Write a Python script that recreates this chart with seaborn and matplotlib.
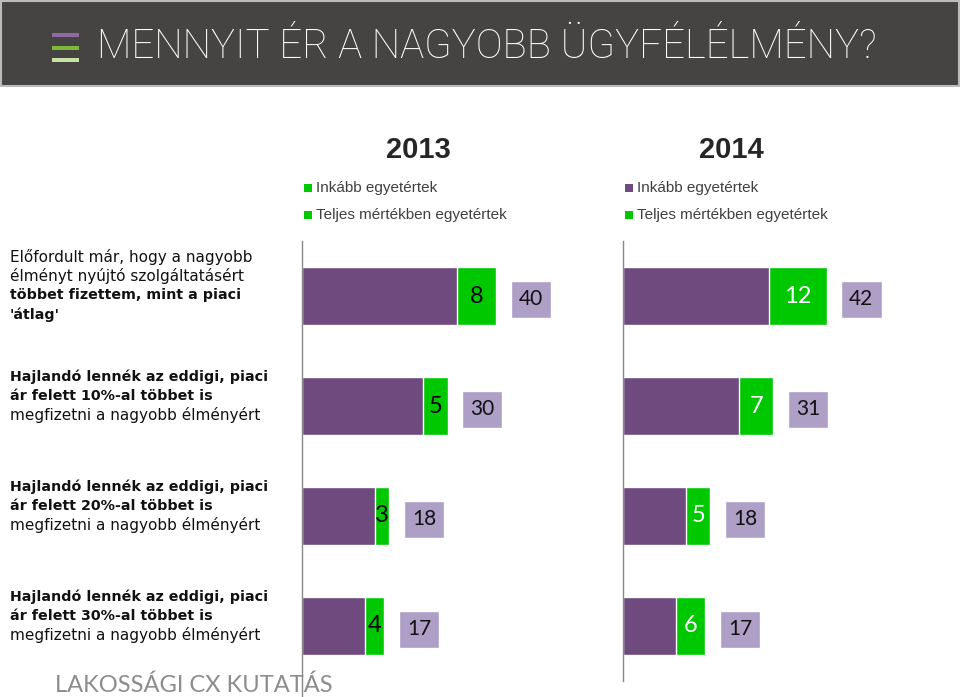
import numpy as np
import pandas as pd
import seaborn as sns
import matplotlib.pyplot as plt
from matplotlib.patches import Rectangle

sns.set_style("white")

# data
rows = ["r1", "r2", "r3", "r4"]
years = ["2013", "2014"]
inkabb_2013 = [32, 25, 15, 13]
teljes_2013 = [8, 5, 3, 4]
total_2013 = [40, 30, 18, 17]
inkabb_2014 = [30, 24, 13, 11]
teljes_2014 = [12, 7, 5, 6]
total_2014 = [42, 31, 18, 17]

row_text = [
    [("Előfordult már, hogy a nagyobb", "normal"), ("élményt nyújtó szolgáltatásért", "normal"),
     ("többet fizettem, mint a piaci", "bold"), ("'átlag'", "bold")],
    [("Hajlandó lennék az eddigi, piaci", "bold"), ("ár felett 10%-al többet is", "bold"),
     ("megfizetni a nagyobb élményért", "normal")],
    [("Hajlandó lennék az eddigi, piaci", "bold"), ("ár felett 20%-al többet is", "bold"),
     ("megfizetni a nagyobb élményért", "normal")],
    [("Hajlandó lennék az eddigi, piaci", "bold"), ("ár felett 30%-al többet is", "bold"),
     ("megfizetni a nagyobb élményért", "normal")],
]
legend_labels = ["Inkább egyetértek", "Teljes mértékben egyetértek"]

purple = "#6E4A7E"
green = "#00C800"
box_col = "#AE9FC6"

W, H = 960, 697
fig = plt.figure(figsize=(9.6, 6.97), dpi=100)

def fx(px):
    return px / W

def fy(py):
    return 1 - py / H

# title band
fig.patches.append(Rectangle((fx(1), fy(86)), fx(958), 85 / H, transform=fig.transFigure,
                             facecolor="#464442", edgecolor="#BBBBBB", lw=1.5))
for py, c in zip([35, 48, 60], ["#8E6AA0", "#7DB83A", "#C8E2A6"]):
    fig.patches.append(Rectangle((fx(52), fy(py + 2)), fx(27), 4 / H, transform=fig.transFigure,
                                 facecolor=c, edgecolor="none"))
fig.text(fx(97), fy(47), "MENNYIT ÉR A NAGYOBB ÜGYFÉLÉLMÉNY?", color="#FFFFFF",
         fontsize=29, family="Roboto", fontweight="light", va="center", ha="left")

# row labels
row_centers = [296, 406, 516, 626]
for (lines, yc) in zip(row_text, row_centers):
    n = len(lines)
    for i, (t, w) in enumerate(lines):
        py = yc - (n - 1) * 19 / 2 + i * 19 - 10
        fig.text(fx(10), fy(py), t, fontsize=11 if w == "normal" else 10.3, fontweight=w,
                 family="DejaVu Sans", va="center", ha="left", color="#111111")

# panels
panels = [
    (302, inkabb_2013, teljes_2013, total_2013, "black", [green, green]),
    (623, inkabb_2014, teljes_2014, total_2014, "white", [purple, green]),
]
xmax = 55
for (left, ink, tel, tot, lab_col, leg_cols), year in zip(panels, years):
    extra = 16 if year == "2013" else 0
    ax = fig.add_axes([fx(left), (16 - extra) / H, xmax * 4.85 / W, (440 + extra) / H])
    df = pd.DataFrame({"row": rows, "ink": ink, "tel": tel, "tot": tot})
    df["sum"] = df["ink"] + df["tel"]
    sns.barplot(data=df, x="sum", y="row", orient="h", color=green, width=0.52,
                saturation=1, ax=ax)
    sns.barplot(data=df, x="ink", y="row", orient="h", color=purple, width=0.52,
                saturation=1, ax=ax)
    gap, bw, bh = 3.0, 8.3, 0.34
    for i, r in df.iterrows():
        ax.text(r["ink"] + r["tel"] / 2, i, str(r["tel"]), color=lab_col, fontsize=17,
                family="Lato", ha="center", va="center")
        ax.barh(i + 0.03, bw, left=r["sum"] + gap, height=bh, color=box_col)
        ax.text(r["sum"] + gap + bw / 2, i + 0.03, str(r["tot"]), color="#111111",
                fontsize=15, family="Lato", ha="center", va="center")
    ax.set_xlim(0, xmax)
    ax.set_ylim(3.5 + extra / 110, -0.5)
    ax.set_xticks([])
    ax.set_yticks([])
    ax.set_xlabel("")
    ax.set_ylabel("")
    for s in ["top", "right", "bottom"]:
        ax.spines[s].set_visible(False)
    ax.spines["left"].set_color("#888888")
    ax.spines["left"].set_linewidth(1)

    # header and legend
    cx = left + 116 if year == "2013" else left + 108
    fig.text(fx(cx), fy(150), year, fontsize=21, fontweight="bold",
             family=["Liberation Sans Narrow", "Liberation Sans"], ha="center", va="center")
    for j, (lab, c) in enumerate(zip(legend_labels, leg_cols)):
        py = 188 + j * 27
        fig.patches.append(Rectangle((fx(left + 2), fy(py + 4)), fx(8), 8 / H,
                                     transform=fig.transFigure, facecolor=c, edgecolor="none"))
        fig.text(fx(left + 14), fy(py), lab, fontsize=11, family="Liberation Sans",
                 color="#404040", ha="left", va="center")

fig.text(fx(55), fy(685), "LAKOSSÁGI CX KUTATÁS", fontsize=17, family="Lato",
         color="#8C8C8C", ha="left", va="center")

fig.savefig("out.png", dpi=100)
